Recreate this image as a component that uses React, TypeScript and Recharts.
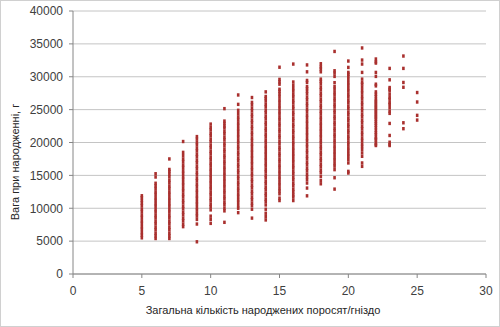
import { CartesianGrid, Scatter, ScatterChart, XAxis, YAxis } from 'recharts'

// Загальна кількість народжених поросят/гніздо -> вага гнізда при народженні, г
const litterSizes = [5, 6, 7, 8, 9, 10, 11, 12, 13, 14, 15, 16, 17, 18, 19, 20, 21, 22, 23, 24, 25]

const w5 = [5500, 5900, 6300, 6800, 7200, 7700, 8100, 8600, 9000, 9500, 9900, 10400, 10800, 11200, 11600, 11900]
const w6 = [5400, 5800, 6200, 6700, 7100, 7600, 8000, 8500, 8900, 9400, 9800, 10300, 10700, 11200, 11600, 12100, 12500, 13000, 13400, 13800, 14750, 15250]
const w7 = [5400, 5800, 6200, 6700, 7100, 7600, 8000, 8500, 8900, 9400, 9800, 10300, 10700, 11200, 11600, 12100, 12500, 13000, 13400, 13900, 14300, 14800, 15200, 15600, 15900, 17500]
const w8 = [7200, 7600, 8100, 8500, 9000, 9400, 9900, 10300, 10800, 11200, 11700, 12100, 12600, 13000, 13500, 13900, 14400, 14800, 15300, 15700, 16200, 16600, 17100, 17500, 18000, 18500, 20150]
const w9 = [4900, 7600, 8300, 8800, 9200, 9700, 10100, 10600, 11000, 11500, 11900, 12400, 12800, 13300, 13700, 14200, 14600, 15100, 15500, 16000, 16400, 16900, 17300, 17800, 18200, 18700, 19100, 19600, 20000, 20500, 20900]
const w10 = [7700, 8300, 8800, 9750, 10200, 10600, 11100, 11500, 12000, 12400, 12900, 13300, 13800, 14200, 14700, 15100, 15600, 16000, 16500, 16900, 17400, 17800, 18300, 18700, 19200, 19600, 20100, 20500, 21000, 21400, 21900, 22300, 22800]
const w11 = [7860, 9600, 10000, 10500, 10900, 11400, 11800, 12300, 12700, 13200, 13600, 14100, 14500, 15000, 15400, 15900, 16300, 16800, 17200, 17700, 18100, 18600, 19000, 19500, 19900, 20400, 20800, 21300, 21700, 22200, 22500, 22900, 23260, 25150]
const w12 = [9330, 10000, 10400, 10900, 11300, 11800, 12200, 12700, 13100, 13600, 14000, 14500, 14900, 15400, 15800, 16300, 16700, 17200, 17600, 18100, 18500, 19000, 19400, 19900, 20300, 20800, 21200, 21700, 22100, 22600, 23000, 23500, 23900, 24400, 24900, 25800, 27230]
const w13 = [8500, 9850, 10400, 10800, 11300, 11700, 12200, 12600, 13100, 13500, 14000, 14400, 14900, 15300, 15800, 16200, 16700, 17100, 17600, 18000, 18500, 18900, 19400, 19800, 20300, 20700, 21200, 21600, 22100, 22500, 23000, 23400, 23900, 24300, 24800, 25200, 25700, 26100, 26840]
const w14 = [8220, 8720, 9240, 9850, 10500, 11000, 11400, 11900, 12300, 12800, 13200, 13700, 14100, 14600, 15000, 15500, 15900, 16400, 16800, 17300, 17700, 18200, 18600, 19100, 19500, 20000, 20400, 20900, 21300, 21800, 22200, 22700, 23100, 23600, 24000, 24500, 24900, 25400, 25800, 26300, 26700, 27000, 27700]
const w15 = [11170, 11540, 12190, 12600, 13000, 13500, 13900, 14400, 14800, 15300, 15700, 16200, 16600, 17100, 17500, 18000, 18400, 18900, 19300, 19800, 20200, 20700, 21100, 21600, 22000, 22500, 22900, 23400, 23800, 24300, 24700, 25200, 25600, 26100, 26500, 27000, 27400, 27800, 28100, 28870, 29220, 29600, 31450]
const w16 = [11170, 11690, 12050, 12500, 12900, 13400, 13800, 14300, 14700, 15200, 15600, 16100, 16500, 17000, 17400, 17900, 18300, 18800, 19200, 19700, 20100, 20600, 21000, 21500, 21900, 22400, 22800, 23300, 23700, 24200, 24600, 25100, 25500, 26000, 26400, 26900, 27300, 27800, 28200, 28700, 29200, 31930]
const w17 = [11890, 13070, 13830, 14350, 14800, 15200, 15700, 16100, 16600, 17000, 17500, 17900, 18400, 18800, 19300, 19700, 20200, 20600, 21100, 21500, 22000, 22400, 22900, 23300, 23800, 24200, 24700, 25100, 25600, 26000, 26500, 26900, 27400, 27800, 28200, 28500, 29130, 29440, 30750, 31800]
const w18 = [13720, 14230, 14840, 15400, 15800, 16300, 16700, 17200, 17600, 18100, 18500, 19000, 19400, 19900, 20300, 20800, 21200, 21700, 22100, 22600, 23000, 23500, 23900, 24400, 24800, 25300, 25700, 26200, 26600, 27100, 27500, 28000, 28400, 28900, 29300, 29640, 30750, 31170, 31520, 31980]
const w19 = [12910, 14640, 15870, 16400, 16800, 17300, 17700, 18200, 18600, 19100, 19500, 20000, 20400, 20900, 21300, 21800, 22200, 22700, 23100, 23600, 24000, 24500, 24900, 25400, 25800, 26300, 26700, 27200, 27600, 28100, 28500, 29100, 30050, 30550, 30910, 33850]
const w20 = [15360, 15610, 16890, 17400, 17900, 18300, 18800, 19200, 19700, 20100, 20600, 21000, 21500, 21900, 22400, 22800, 23300, 23700, 24200, 24600, 25100, 25500, 26000, 26400, 26900, 27300, 27800, 28200, 28700, 29100, 29600, 30050, 30400, 30660, 31420, 32390]
const w21 = [16370, 16890, 17900, 18420, 18950, 19400, 19800, 20300, 20700, 21200, 21600, 22100, 22500, 23000, 23400, 23900, 24300, 24800, 25200, 25700, 26100, 26600, 27000, 27500, 27900, 28400, 28870, 29130, 29640, 30660, 31930, 32540, 34380]
const w22 = [19540, 19690, 19950, 20350, 20560, 20800, 21220, 21500, 21880, 22250, 22600, 22900, 23200, 23520, 23800, 24020, 24300, 24540, 24800, 25050, 25300, 25550, 25800, 26070, 26300, 26580, 26990, 27340, 27700, 28610, 28870, 30050, 30660, 32080, 32280, 32700]
const w23 = [19540, 19690, 20040, 21070, 22900, 24430, 24790, 25310, 25810, 26070, 26580, 26840, 27340, 27850, 28110, 28360, 29530, 31270]
const w24 = [22100, 23000, 28400, 29130, 31270, 33150]
const w25 = [23410, 24130, 26160, 27600]

const weightsByLitter = [w5, w6, w7, w8, w9, w10, w11, w12, w13, w14, w15, w16, w17, w18, w19, w20, w21, w22, w23, w24, w25]

const xTicks = [0, 5, 10, 15, 20, 25, 30]
const yTicks = [0, 5000, 10000, 15000, 20000, 25000, 30000, 35000, 40000]

const points = litterSizes.flatMap((n, i) => weightsByLitter[i].map((w) => ({ x: n, y: w })))

const font = 'Liberation Sans, Arial, sans-serif'
const axisColor = '#868686'
const tick = { fill: '#404040', fontSize: 12, fontFamily: font }

// small square marker, tall enough that neighbouring values merge into a strip
function Dot(props: any) {
  return <rect x={props.cx - 1.3} cy={0} y={props.cy - 1.7} width={2.6} height={3.4} fill="#A9302E" />
}

export default function App() {
  return (
    <div
      style={{
        position: 'absolute',
        left: 0,
        top: 0,
        width: 500,
        height: 327,
        background: '#fff',
        border: '1px solid #d0d0d0',
        boxSizing: 'border-box',
      }}
    >
      <ScatterChart width={498} height={325} margin={{ top: 10, right: 13, left: 0, bottom: 0 }}>
        <CartesianGrid vertical={false} stroke="#c4c4c4" />
        <XAxis
          type="number"
          dataKey="x"
          domain={[0, 30]}
          ticks={xTicks}
          height={52}
          tickSize={4}
          tickMargin={8}
          stroke={axisColor}
          tick={tick}
          interval={0}
          label={{
            content: () => (
              <text x={262} y={309} textAnchor="middle" dominantBaseline="central" fill="#262626" fontSize={11} fontFamily={font}>
                Загальна кількість народжених поросят/гніздо
              </text>
            ),
          }}
        />
        <YAxis
          type="number"
          dataKey="y"
          domain={[0, 40000]}
          ticks={yTicks}
          width={72}
          tickSize={4}
          tickMargin={6}
          stroke={axisColor}
          tick={tick}
          interval={0}
          label={{
            content: () => (
              <text
                x={14}
                y={161}
                transform="rotate(-90 14 161)"
                textAnchor="middle"
                dominantBaseline="central"
                fill="#262626"
                fontSize={11}
                fontFamily={font}
              >
                Вага при народженні, г
              </text>
            ),
          }}
        />
        <Scatter data={points} shape={Dot} isAnimationActive={false} />
      </ScatterChart>
    </div>
  )
}
